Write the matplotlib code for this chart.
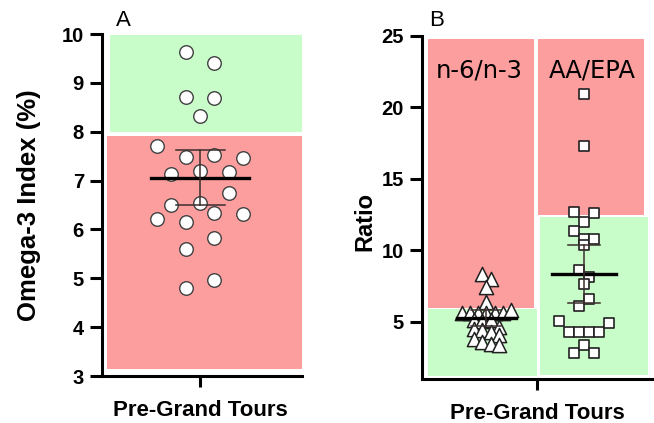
import matplotlib.pyplot as plt
from matplotlib.patches import Rectangle
import numpy as np

# values (n = 23 riders)
omega3_index = [9.64, 9.40, 8.71, 8.69, 8.32, 7.71, 7.49, 7.52, 7.46, 7.14, 7.19, 7.17,
                6.50, 6.54, 6.75, 6.22, 6.15, 6.33, 6.32, 5.60, 5.82, 4.81, 4.97]
n6_n3 = [8.38, 8.03, 7.44, 6.39, 5.62, 5.60, 5.64, 5.61, 5.63, 5.62, 5.81, 5.10,
         5.06, 5.12, 4.64, 4.53, 4.41, 4.30, 4.06, 3.83, 3.59, 3.48, 3.36]
aa_epa = [20.94, 17.30, 12.70, 11.99, 12.58, 11.34, 10.76, 10.41, 10.78, 8.61, 8.14,
          7.63, 6.11, 6.58, 5.06, 4.29, 4.29, 4.29, 4.29, 4.95, 2.85, 3.36, 2.85]

group_label = 'Pre-Grand Tours'
ratio_names = ['n-6/n-3', 'AA/EPA']
omega3_ticks = [3, 4, 5, 6, 7, 8, 9, 10]
ratio_ticks = [5, 10, 15, 20, 25]

# zone cut-offs
omega3_cut = 8.0
n6_n3_cut = 6.0
aa_epa_cut = 12.5

T_CRIT = 2.074  # t(0.975, df=22) for the 95% CI

RED = '#fd9e9e'
GREEN = '#c8fcc8'

plt.rcParams['font.family'] = ['Liberation Sans', 'DejaVu Sans']


def swarm(values, row_h, step):
    """simple row based beeswarm: points closer than row_h share a row"""
    vals = np.asarray(values, dtype=float)
    order = np.argsort(-vals, kind='stable')
    rows = []
    for i in order:
        if rows and vals[i] > vals[rows[-1][0]] - row_h:
            rows[-1].append(i)
        else:
            rows.append([i])
    offs = np.zeros(len(vals))
    for row in rows:
        row = sorted(row)
        n = len(row)
        for k, i in enumerate(row):
            offs[i] = (k - (n - 1) / 2) * step
    return offs


def mean_ci(ax, x, values, half_w, cap_w):
    v = np.asarray(values)
    m = v.mean()
    ci = T_CRIT * v.std(ddof=1) / np.sqrt(len(v))
    ax.plot([x - half_w, x + half_w], [m, m], color='black', lw=2.4, zorder=6)
    ax.plot([x, x], [m - ci, m + ci], color='#3a2e2e', lw=1.1, zorder=6)
    for y in (m - ci, m + ci):
        ax.plot([x - cap_w, x + cap_w], [y, y], color='#3a2e2e', lw=1.1, zorder=6)


def zone(ax, x0, x1, y0, y1, color):
    ax.add_patch(Rectangle((x0, y0), x1 - x0, y1 - y0, facecolor=color, edgecolor='none',
                           transform=ax.get_yaxis_transform(), zorder=0))


def style(ax):
    for s in ['top', 'right']:
        ax.spines[s].set_visible(False)
    for s in ['left', 'bottom']:
        ax.spines[s].set_linewidth(2.2)
    ax.tick_params(axis='y', length=9, width=2.2, pad=4, labelsize=14.5)
    ax.tick_params(axis='x', length=8, width=2.2, pad=9, labelsize=16)
    for t in ax.get_yticklabels() + ax.get_xticklabels():
        t.set_fontweight('bold')


fig = plt.figure(figsize=(6.54, 4.23), dpi=100)

# ---- panel A
ax1 = fig.add_axes([0.156, 0.111, 0.306, 0.8085])
ax1.set_xlim(-1, 1.04)
ax1.set_ylim(3, 10)
zone(ax1, 0.025, 1.0, 3.15, omega3_cut - 0.08, RED)
zone(ax1, 0.04, 1.0, omega3_cut, 9.98, GREEN)
xa = swarm(omega3_index, 0.29, 0.293)
ax1.scatter(xa, omega3_index, s=95, marker='o', facecolor='white', edgecolor='#404040',
            linewidth=1.0, zorder=5)
mean_ci(ax1, 0, omega3_index, 0.5, 0.25)
ax1.set_yticks(omega3_ticks)
ax1.set_xticks([0])
ax1.set_xticklabels([group_label])
ax1.set_ylabel('Omega-3 Index (%)', fontsize=18.5, fontweight='bold')
ax1.yaxis.set_label_coords(-0.305, 0.5)
style(ax1)

# ---- panel B
ax2 = fig.add_axes([0.6453, 0.104, 0.3517, 0.811])
ax2.set_xlim(-1, 1)
ax2.set_ylim(1, 25)
zone(ax2, 0.027, 0.487, n6_n3_cut, 24.8, RED)
zone(ax2, 0.027, 0.499, 1.2, n6_n3_cut - 0.12, GREEN)
zone(ax2, 0.506, 0.967, aa_epa_cut, 24.8, RED)
zone(ax2, 0.513, 0.984, 1.25, aa_epa_cut - 0.2, GREEN)

pos = [-0.44, 0.41]
xt = pos[0] + swarm(n6_n3, 0.5, 0.072)
ax2.scatter(xt, n6_n3, s=105, marker='^', facecolor='white', edgecolor='#202020',
            linewidth=1.1, zorder=5)
xs = pos[1] + swarm(aa_epa, 0.8, 0.087)
ax2.scatter(xs, aa_epa, s=55, marker='s', facecolor='white', edgecolor='#202020',
            linewidth=1.2, zorder=5)
mean_ci(ax2, pos[0], n6_n3, 0.26, 0.13)
mean_ci(ax2, pos[1], aa_epa, 0.28, 0.14)

ax2.text(-0.50, 22.6, ratio_names[0], ha='center', va='center', fontsize=17.5,
         family='DejaVu Sans', zorder=7)
ax2.text(0.48, 22.6, ratio_names[1], ha='center', va='center', fontsize=17.5,
         family='DejaVu Sans', zorder=7)
ax2.set_yticks(ratio_ticks)
ax2.set_xticks([0])
ax2.set_xticklabels([group_label])
ax2.set_ylabel('Ratio', fontsize=17, fontweight='bold')
ax2.yaxis.set_label_coords(-0.2, 0.46)
style(ax2)

fig.text(123 / 654, 1 - 20 / 423, 'A', ha='center', va='center', fontsize=16)
fig.text(437 / 654, 1 - 20 / 423, 'B', ha='center', va='center', fontsize=16)

fig.savefig('out.png', dpi=100)
